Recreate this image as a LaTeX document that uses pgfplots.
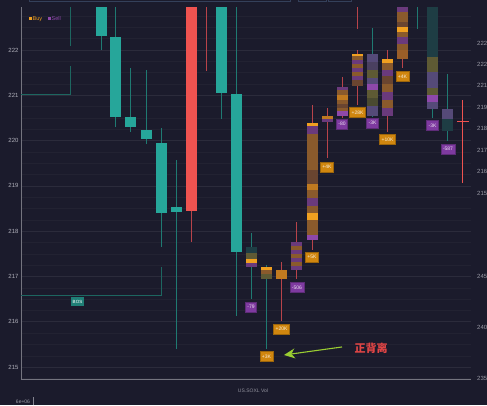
\documentclass[border=0pt]{standalone}
\usepackage{fontspec}
\setmainfont{Liberation Sans}
\newfontfamily\cjk{Noto Sans CJK SC}
\usepackage{pgfplots}
\pgfplotsset{compat=1.18}
\usetikzlibrary{arrows.meta}
\definecolor{bg}{HTML}{1B1B2C}
\definecolor{tvteal}{HTML}{26A69A}
\definecolor{tvred}{HTML}{EF5350}
\definecolor{wteal}{HTML}{1F7A72}
\definecolor{wred}{HTML}{B8434A}
\definecolor{dteal}{HTML}{1E3D44}
\definecolor{olv}{HTML}{5E5A34}
\definecolor{dolv}{HTML}{4A4A30}
\definecolor{org}{HTML}{F0A020}
\definecolor{org2}{HTML}{C07A20}
\definecolor{brn}{HTML}{8A5A2C}
\definecolor{brn2}{HTML}{9A5E28}
\definecolor{dbrn}{HTML}{6A4530}
\definecolor{pur}{HTML}{6A3A7C}
\definecolor{bpur}{HTML}{8E48AA}
\definecolor{gpur}{HTML}{554A78}
\definecolor{dpur}{HTML}{4A4060}
\definecolor{lblo}{HTML}{D0860F}
\definecolor{lblp}{HTML}{7E3AA0}
\definecolor{bos}{HTML}{1F7F76}
\definecolor{bosl}{HTML}{1D6660}
\definecolor{tick}{HTML}{B0B0BA}
\definecolor{axl}{HTML}{74747F}
\definecolor{ui}{HTML}{34405A}
\definecolor{arr}{HTML}{9ACD32}
\definecolor{ann}{HTML}{E04545}
\newcommand\bd[4]{\pgfmathsetmacro\xa{#1-5.5}\pgfmathsetmacro\xb{#1+5.5}%
  \addplot[fill=#4,draw=none,forget plot] coordinates {(\xa,#2) (\xb,#2) (\xb,#3) (\xa,#3)};}
\newcommand\wk[4]{\addplot[draw=#4,line width=0.9pt,forget plot] coordinates {(#1,#2) (#1,#3)};}
\newcommand\lb[4]{\node[fill=#3,draw=#3!75!black,text=white!85!#3,font=\fontsize{5}{5}\selectfont,inner xsep=2pt,inner ysep=0pt,minimum height=10pt] at (#1,#2) {#4};}
\begin{document}
\begin{tikzpicture}[x=1pt,y=1pt]
\fill[bg] (0,0) rectangle (487,405);
\begin{axis}[at={(21pt,26pt)}, anchor=south west, scale only axis,
  width=450pt, height=372pt,
  xmin=21, xmax=471, ymin=214.737, ymax=222.949,
  axis x line*=bottom, axis y line*=left,
  axis line style={axl, line width=0.8pt},
  xtick=\empty, ytick={215,216,...,222},
  minor ytick={214.75,215.25,215.5,215.75,216.25,216.5,216.75,217.25,217.5,217.75,218.25,218.5,218.75,219.25,219.5,219.75,220.25,220.5,220.75,221.25,221.5,221.75,222.25,222.5,222.75},
  ymajorgrids, yminorgrids,
  major grid style={color=white!7!bg, line width=0.6pt},
  minor grid style={color=white!3!bg, line width=0.5pt},
  major tick length=0pt, minor tick length=0pt,
  yticklabel style={font=\fontsize{6}{6}\selectfont, text=tick, xshift=1pt},
  /pgf/number format/assume math mode=true,
  ]
% structure lines
\addplot[bosl, line width=1pt, forget plot] coordinates {(21,216.570) (161,216.570) (161,217.21)};
\addplot[bosl, line width=1pt, forget plot] coordinates {(21,221.007) (70,221.007) (70,221.647)};
\addplot[bosl, line width=1pt, forget plot] coordinates {(70,222.088) (70,223.5)};
% plain candles
\wk{101}{222.0}{223.5}{wteal}   \bd{101}{222.309}{223.5}{tvteal}
\wk{115.5}{220.300}{223.5}{wteal} \bd{115.5}{220.521}{222.287}{tvteal}
\wk{130.5}{220.19}{221.603}{wteal} \bd{130.5}{220.300}{220.521}{tvteal}
\wk{146}{219.925}{221.558}{wteal} \bd{146}{220.035}{220.234}{tvteal}
\wk{161}{217.651}{220.278}{wteal} \bd{161}{218.402}{219.947}{tvteal}
\wk{176}{215.399}{219.572}{wteal} \bd{176}{218.424}{218.534}{tvteal}
\wk{191}{217.762}{223.5}{wred} \bd{191}{218.446}{223.5}{tvred}
\wk{206}{221.536}{223.5}{wred}
\wk{221.5}{220.477}{223.5}{wteal} \bd{221.5}{221.051}{223.5}{tvteal}
\wk{236.5}{216.128}{223.5}{wteal} \bd{236.5}{217.541}{221.029}{tvteal}
% footprint candles
\wk{251.5}{216.503}{217.960}{wteal}
\bd{251.5}{217.519}{217.651}{dteal} \bd{251.5}{217.386}{217.519}{olv}
\bd{251.5}{217.298}{217.386}{org} \bd{251.5}{217.210}{217.298}{pur}
\wk{266.5}{215.399}{217.254}{wteal}
\bd{266.5}{217.144}{217.210}{org} \bd{266.5}{217.056}{217.144}{brn} \bd{266.5}{216.945}{217.056}{olv}
\wk{281.5}{216.018}{217.320}{wred}
\bd{281.5}{216.945}{217.144}{org2}
\wk{296.5}{216.945}{218.203}{wred}
\bd{296.5}{217.673}{217.762}{pur} \bd{296.5}{217.585}{217.673}{brn} \bd{296.5}{217.497}{217.585}{pur}
\bd{296.5}{217.408}{217.497}{brn} \bd{296.5}{217.320}{217.408}{pur} \bd{296.5}{217.232}{217.320}{brn}
\bd{296.5}{217.144}{217.232}{pur}
\wk{312.5}{217.585}{220.786}{wred}
\bd{312.5}{220.322}{220.388}{org} \bd{312.5}{220.146}{220.322}{pur} \bd{312.5}{219.351}{220.146}{brn}
\bd{312.5}{219.042}{219.351}{dbrn} \bd{312.5}{218.910}{219.042}{org2} \bd{312.5}{218.733}{218.910}{brn}
\bd{312.5}{218.557}{218.733}{pur} \bd{312.5}{218.402}{218.557}{brn} \bd{312.5}{218.247}{218.402}{org}
\bd{312.5}{217.916}{218.247}{brn} \bd{312.5}{217.806}{217.916}{bpur}
\wk{327.5}{219.616}{220.720}{wred}
\bd{327.5}{220.477}{220.543}{org2} \bd{327.5}{220.411}{220.477}{pur}
\wk{342.5}{220.50}{221.404}{wred}
\bd{342.5}{221.117}{221.183}{pur} \bd{342.5}{221.007}{221.117}{brn} \bd{342.5}{220.896}{221.007}{org2}
\bd{342.5}{220.808}{220.896}{brn} \bd{342.5}{220.720}{220.808}{dbrn} \bd{342.5}{220.653}{220.720}{brn}
\bd{342.5}{220.543}{220.653}{bpur}
\wk{357.5}{220.786}{222.0}{wred} \wk{357.5}{222.464}{223.5}{wred}
\bd{357.5}{221.868}{221.912}{org} \bd{357.5}{221.779}{221.868}{brn} \bd{357.5}{221.691}{221.779}{pur}
\bd{357.5}{221.603}{221.691}{brn} \bd{357.5}{221.514}{221.603}{pur} \bd{357.5}{221.426}{221.514}{brn}
\bd{357.5}{221.338}{221.426}{pur} \bd{357.5}{221.205}{221.338}{dbrn}
\wk{372.5}{220.52}{222.486}{wteal}
\bd{372.5}{221.735}{221.912}{gpur} \bd{372.5}{221.558}{221.735}{dpur} \bd{372.5}{221.382}{221.558}{olv}
\bd{372.5}{221.249}{221.382}{gpur} \bd{372.5}{221.117}{221.249}{bpur} \bd{372.5}{220.940}{221.117}{olv}
\bd{372.5}{220.764}{220.940}{dolv} \bd{372.5}{220.543}{220.764}{gpur}
\wk{387.5}{220.190}{222.0}{wred}
\bd{387.5}{221.713}{221.801}{org} \bd{387.5}{221.558}{221.713}{brn} \bd{387.5}{221.426}{221.558}{pur}
\bd{387.5}{221.249}{221.426}{dbrn} \bd{387.5}{221.073}{221.249}{brn} \bd{387.5}{220.896}{221.073}{pur}
\bd{387.5}{220.720}{220.896}{brn} \bd{387.5}{220.543}{220.720}{pur}
\wk{402.5}{221.603}{223.5}{wred}
\bd{402.5}{222.839}{223.5}{pur} \bd{402.5}{222.618}{222.839}{brn} \bd{402.5}{222.508}{222.618}{dbrn}
\bd{402.5}{222.397}{222.508}{org} \bd{402.5}{222.287}{222.397}{brn} \bd{402.5}{222.132}{222.287}{pur}
\bd{402.5}{222.0}{222.132}{brn} \bd{402.5}{221.801}{222.0}{brn2}
\wk{417}{222.464}{223.5}{wteal}
\wk{432.5}{220.499}{220.698}{wteal}
\bd{432.5}{221.845}{223.5}{dteal} \bd{432.5}{221.514}{221.845}{olv} \bd{432.5}{221.161}{221.514}{gpur}
\bd{432.5}{221.007}{221.161}{olv} \bd{432.5}{220.852}{221.007}{bpur} \bd{432.5}{220.698}{220.852}{gpur}
\wk{447.5}{219.991}{221.470}{wteal}
\bd{447.5}{220.477}{220.698}{gpur} \bd{447.5}{220.212}{220.477}{dteal}
\wk{462.5}{219.064}{220.896}{tvred}
\addplot[tvred, line width=1pt, forget plot] coordinates {(457,220.411) (469,220.411)};
% labels
\node[fill=bos,text=white,font=\fontsize{4.5}{5}\selectfont,inner xsep=1.5pt,inner ysep=0pt,minimum height=9pt] at (77.5,216.437) {BOS};
\lb{251}{216.327}{lblp}{-79}
\lb{266.5}{215.234}{lblo}{+3K}
\lb{281.5}{215.841}{lblo}{+20K}
\lb{297}{216.757}{lblp}{-506}
\lb{312}{217.43}{lblo}{+5K}
\lb{327}{219.417}{lblo}{+4K}
\lb{342}{220.366}{lblp}{-80}
\lb{357.5}{220.620}{lblo}{+28K}
\lb{372.5}{220.388}{lblp}{-3K}
\lb{387.5}{220.024}{lblo}{+10K}
\lb{402.5}{221.415}{lblo}{+4K}
\lb{432.5}{220.333}{lblp}{-3K}
\lb{448}{219.815}{lblp}{-587}
% annotation
\addplot[arr, line width=1.1pt, -{Stealth[length=11pt,width=10pt]}, forget plot] coordinates {(342,215.444) (284,215.267)};
\node[text=ann, font=\cjk\bfseries\fontsize{11}{11}\selectfont] at (371,215.422) {正背离};
\end{axis}
% legend
\fill[org] (28.5,384.5) rectangle (31.5,387.5);
\node[anchor=west, text=org, font=\fontsize{5.5}{6}\selectfont, inner sep=0pt] at (32.5,386) {Buy};
\fill[bpur] (47.5,384.5) rectangle (50.5,387.5);
\node[anchor=west, text=bpur, font=\fontsize{5.5}{6}\selectfont, inner sep=0pt] at (51.5,386) {Sell};
% right side scales
\foreach \yy/\tt in {43/222,64/222,85/221,107/219,128/218,150/217,171/216,193/215,276/245,327/240,378/235}{
  \node[anchor=west, text=tick!85!bg, font=\fontsize{6}{6}\selectfont, inner sep=0pt] at (477,405-\yy) {\tt};
}
% bottom
\node[text=tick!80!bg, font=\fontsize{5}{5}\selectfont, inner sep=0pt] at (253,14) {US.SOXL Vol};
\node[text=tick!85!bg, font=\fontsize{5}{5}\selectfont, inner sep=0pt] at (23,3) {6e+06};
\draw[tick!70!bg, line width=0.6pt] (33,0) -- (33,8);
% top UI boxes
\draw[ui, line width=0.8pt] (29,406) -- (29,403.5) -- (290,403.5) -- (290,406);
\draw[ui, line width=0.8pt] (298,406) -- (298,403.5) -- (326,403.5) -- (326,406);
\draw[ui, line width=0.8pt] (328,406) -- (328,403.5) -- (351,403.5) -- (351,406);
\pgfresetboundingbox
\path[use as bounding box] (0,0) rectangle (487,405);
\end{tikzpicture}
\end{document}
